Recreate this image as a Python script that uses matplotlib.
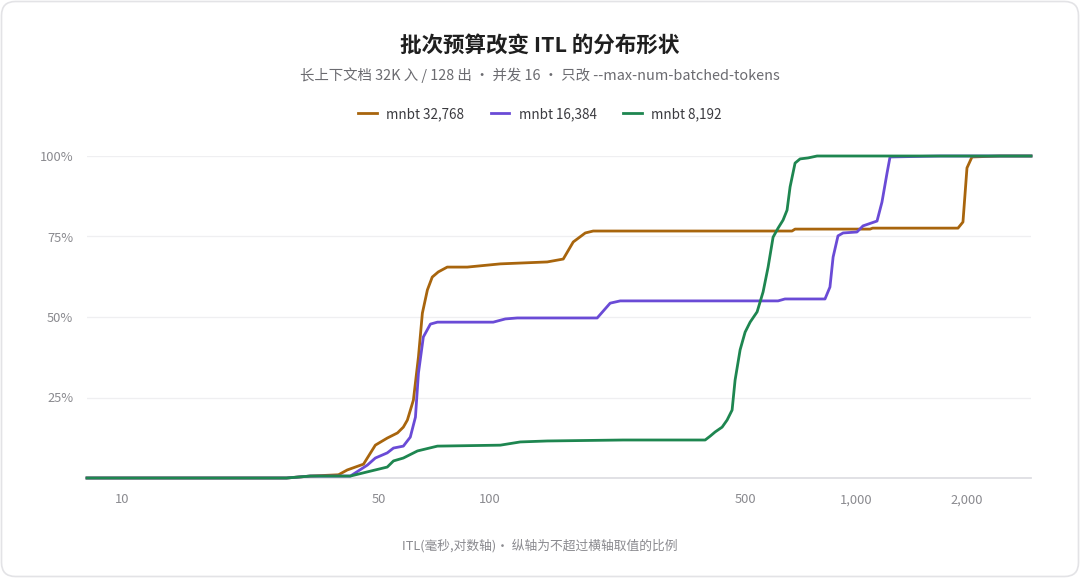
import matplotlib
matplotlib.use('Agg')
import matplotlib.pyplot as plt
from matplotlib.patches import FancyBboxPatch
from matplotlib.ticker import FixedLocator, FixedFormatter, NullLocator
from matplotlib.transforms import IdentityTransform

plt.rcParams['font.family'] = ['Noto Sans CJK SC', 'DejaVu Sans']

# ITL(ms) / 累计比例(%)
x_32768 = [8, 28, 32.5, 38.8, 41.0, 45.4, 48.9, 52.7, 56.2, 58.3, 59.8, 62.1, 64.1, 65.7,
           67.8, 69.9, 72.6, 76.8, 87.1, 107.2, 143.9, 159.1, 169.4, 182.7, 192.0, 669,
           682, 1092, 1110, 1897, 1957, 2007, 2071, 2468, 3000]
y_32768 = [0, 0, 0.6, 1.0, 2.5, 4.3, 10.2, 12.4, 14.0, 15.8, 18.0, 24.2, 37.6, 51.2,
           58.4, 62.4, 64.0, 65.5, 65.5, 66.5, 67.1, 68.0, 73.3, 76.1, 76.7, 76.7,
           77.3, 77.3, 77.6, 77.6, 79.5, 96.3, 99.7, 100, 100]

x_16384 = [8, 28, 32.5, 41.8, 46.5, 48.9, 52.7, 54.8, 58.3, 60.9, 62.9, 64.1, 66.1, 69.1,
           72.2, 102.5, 110.6, 119.2, 196.9, 213.6, 227.5, 613, 640, 823, 849, 866, 893,
           922, 1006, 1045, 1141, 1177, 1215, 1238, 1700, 3000]
y_16384 = [0, 0, 0.6, 0.6, 4.0, 6.2, 7.8, 9.3, 9.9, 12.7, 18.9, 32.6, 43.8, 47.8,
           48.4, 48.4, 49.4, 49.7, 49.7, 54.3, 55.0, 55.0, 55.6, 55.6, 59.3, 68.6, 75.2,
           76.1, 76.4, 78.3, 79.8, 85.7, 94.7, 99.7, 100, 100]

x_8192 = [8, 28, 32.5, 41.8, 46.5, 52.7, 54.8, 58.3, 63.7, 72.2, 107.2, 121.5, 143.9, 231.8,
          387.8, 400.2, 412.9, 431.4, 445.1, 459.3, 468.0, 483.0, 498.4, 514.3, 537.4,
          558.0, 575.8, 594.1, 613, 632.5, 648.6, 661.0, 682, 703.8, 740.0, 783.0, 3000]
y_8192 = [0, 0, 0.6, 0.6, 1.9, 3.4, 5.3, 6.2, 8.4, 9.9, 10.2, 11.2, 11.5, 11.8,
          11.8, 13.0, 14.3, 15.8, 18.0, 21.1, 30.4, 39.8, 45.3, 48.4, 51.6,
          57.8, 65.5, 74.8, 77.6, 80.1, 83.2, 90.4, 97.8, 99.1, 99.4, 100, 100]

series_names = ['mnbt 32,768', 'mnbt 16,384', 'mnbt 8,192']
series_colors = ['#A8650D', '#6A4BD6', '#1E8650']

x_ticks = [10, 50, 100, 500, 1000, 2000]
x_tick_labels = ['10', '50', '100', '500', '1,000', '2,000']
y_ticks = [25, 50, 75, 100]
y_tick_labels = ['25%', '50%', '75%', '100%']

W, H = 1080, 578
fig = plt.figure(figsize=(W / 100, H / 100), dpi=100)
fig.patch.set_facecolor('white')

# 圆角卡片边框
card = FancyBboxPatch((1.5, 1.5), W - 3, H - 3, boxstyle='round,pad=0,rounding_size=14',
                      transform=IdentityTransform(), facecolor='white',
                      edgecolor='#e3e3e6', linewidth=1.2, zorder=-10)
fig.patches.append(card)

ax = fig.add_axes([87 / W, 1 - 478 / H, (1031 - 87) / W, (478 - 156) / H])
ax.set_facecolor('none')

for xs, ys, name, c in zip([x_32768, x_16384, x_8192], [y_32768, y_16384, y_8192],
                           series_names, series_colors):
    ax.plot(xs, ys, color=c, lw=2.0, label=name, clip_on=False, zorder=3,
            solid_joinstyle='round')

ax.set_xscale('log')
ax.set_xlim(8, 3000)
ax.set_ylim(0, 100)

ax.xaxis.set_major_locator(FixedLocator(x_ticks))
ax.xaxis.set_major_formatter(FixedFormatter(x_tick_labels))
ax.xaxis.set_minor_locator(NullLocator())
ax.yaxis.set_major_locator(FixedLocator(y_ticks))
ax.yaxis.set_major_formatter(FixedFormatter(y_tick_labels))

ax.tick_params(axis='both', length=0, labelsize=9.3, labelcolor='#8a8a8f')
ax.tick_params(axis='x', pad=11)
ax.tick_params(axis='y', pad=10)

ax.grid(axis='y', color='#efeff1', lw=0.9)
ax.set_axisbelow(True)
for s in ['top', 'right', 'left']:
    ax.spines[s].set_visible(False)
ax.spines['bottom'].set_color('#dedee3')
ax.spines['bottom'].set_linewidth(1.3)

fig.text(0.5, 1 - 45 / H, '批次预算改变 ITL 的分布形状', ha='center', va='center',
         fontsize=15.5, fontweight='bold', color='#1f1f1f')
fig.text(0.5, 1 - 75 / H, '长上下文档 32K 入 / 128 出 · 并发 16 · 只改 --max-num-batched-tokens',
         ha='center', va='center', fontsize=10.4, color='#6b6b70')
fig.text(0.5, 1 - 546 / H, 'ITL(毫秒,对数轴)· 纵轴为不超过横轴取值的比例',
         ha='center', va='center', fontsize=9.2, color='#8a8a8f')

fig.legend(loc='center', bbox_to_anchor=(0.5, 1 - 114 / H), ncol=3, frameon=False,
           fontsize=9.7, handlelength=1.35, handletextpad=0.7, columnspacing=2.0,
           labelcolor='#3a3a3f')

fig.savefig('out.png', dpi=100)
